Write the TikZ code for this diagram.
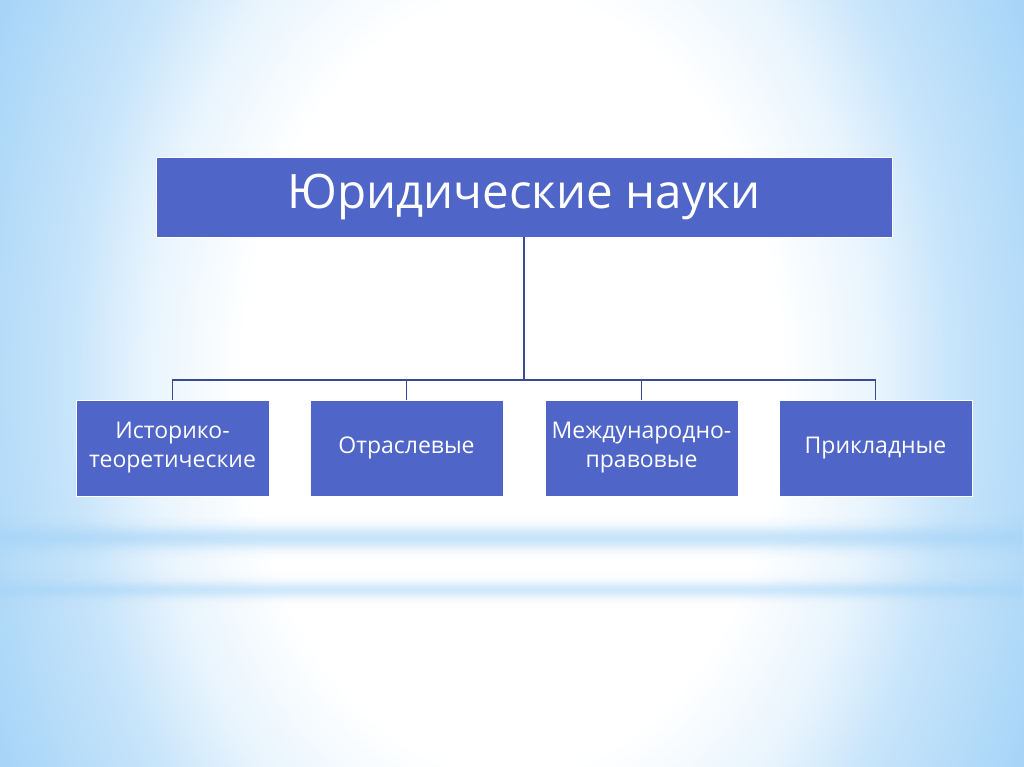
\documentclass[tikz,border=0pt]{standalone}
\usepackage{fontspec}
\setmainfont{Open Sans}
\usetikzlibrary{fadings}
\definecolor{bgblue}{HTML}{A3D3F7}
\definecolor{boxblue}{HTML}{4F66C8}
\definecolor{linecol}{HTML}{3A4A90}
\pgfdeclareradialshading{bgshade}{\pgfpoint{0bp}{0bp}}{%
  color(0bp)=(white); color(11bp)=(white); color(15bp)=(bgblue!25);
  color(18bp)=(bgblue!60); color(21bp)=(bgblue!80); color(24bp)=(bgblue); color(50bp)=(bgblue)}
\tikzfading[name=hfade, left color=transparent!0, middle color=transparent!75, right color=transparent!0]
\tikzset{
  topbox/.style={draw=white, line width=0.8pt, fill=boxblue, text=white,
    minimum width=736pt, minimum height=80pt, inner sep=0pt, font=\fontsize{47.5}{54}\selectfont},
  leafbox/.style={draw=white, line width=0.8pt, fill=boxblue, text=white,
    minimum width=193pt, minimum height=96pt, inner sep=0pt, align=center,
    font=\fontsize{23}{29}\selectfont},
  conn/.style={draw=linecol, line width=1.6pt}
}
\begin{document}
\begin{tikzpicture}[x=1pt,y=-1pt]
\useasboundingbox (0,0) rectangle (1024,767);
\begin{scope}
\clip (0,0) rectangle (1024,767);
\shade[shading=bgshade] (-100,-500) rectangle (1124,1267);
% soft horizontal bands
\foreach \c/\w/\s in {538/11/0.6, 590/8/0.5}{
  \foreach \i in {-20,-18,...,20}{
    \pgfmathsetmacro{\op}{\s*exp(-(\i/\w)^2)}
    \fill[bgblue, opacity=\op, path fading=hfade] (0,\c+\i-1) rectangle (1024,\c+\i+1);
  }
}
\end{scope}
\node[topbox] (top) at (524,197) {Юридические науки};
\node[leafbox] (a) at (172.5,448) {Историко-\\теоретические};
\node[leafbox] (b) at (406.5,448) {Отраслевые};
\node[leafbox] (c) at (641.5,448) {Международно-\\правовые};
\node[leafbox] (d) at (875.5,448) {Прикладные};

\coordinate (bus) at (524,380);
\draw[conn] (top.south) -- (bus);
\draw[conn] (a.north) |- (bus) -| (d.north);
\draw[conn] (b.north) -- (b.north |- bus);
\draw[conn] (c.north) -- (c.north |- bus);
\end{tikzpicture}
\end{document}
